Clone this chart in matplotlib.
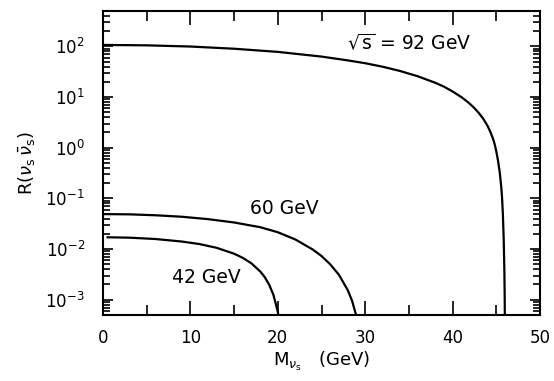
import matplotlib
matplotlib.use("Agg")
import matplotlib.pyplot as plt
from matplotlib.ticker import FixedLocator, LogLocator, NullFormatter, MultipleLocator

# Data
m92 = [0, 5, 10, 15, 20, 25, 28, 30, 32, 34, 36, 38, 39, 40, 41, 41.5, 42, 42.5, 43,
       43.5, 44, 44.3, 44.6, 44.8, 45, 45.2, 45.4, 45.55, 45.65, 45.75, 45.85,
       45.92, 45.96, 45.99]
r92 = [107, 105, 99.5, 90, 78, 63, 53, 46.6, 39.7, 32.7, 25.8, 19.2, 16.1, 12.9,
       10.0, 8.6, 7.3, 6.05, 4.85, 3.75, 2.7, 2.1, 1.55, 1.2, 0.85, 0.55, 0.32, 0.18,
       0.11, 0.05, 0.015, 0.004, 0.0012, 0.0002]

m60 = [0, 3, 6, 9, 12, 15, 18, 20, 22, 24, 25, 26, 27, 28, 28.5, 29, 29.3, 29.6, 29.9]
r60 = [0.049, 0.0485, 0.0465, 0.0435, 0.039, 0.0335, 0.027, 0.0215, 0.0155, 0.0098,
       0.0073, 0.005, 0.0031, 0.00155, 0.00095, 0.00047, 0.00024, 0.00008, 0.00001]

m42 = [0.4, 3, 6, 9, 11, 13, 15, 16, 17, 18, 18.5, 19, 19.5, 20, 20.3, 20.6, 20.9]
r42 = [0.0171, 0.0168, 0.0158, 0.0141, 0.0126, 0.0106, 0.0081, 0.0067, 0.0052,
       0.0036, 0.0028, 0.0020, 0.00125, 0.00058, 0.00028, 0.00009, 0.00001]

xticks = [0, 10, 20, 30, 40, 50]
xticklabels = ["0", "10", "20", "30", "40", "50"]
yticks = [1e-3, 1e-2, 1e-1, 1e0, 1e1, 1e2]
yticklabels = [r"$10^{-3}$", r"$10^{-2}$", r"$10^{-1}$", r"$10^{0}$", r"$10^{1}$", r"$10^{2}$"]

curve_labels = [r"$\sqrt{\mathrm{s}}$ = 92 GeV", "60 GeV", "42 GeV"]

plt.rcParams['font.family'] = ['DejaVu Sans']
plt.rcParams['mathtext.fontset'] = 'dejavusans'

fig = plt.figure(figsize=(5.54, 3.81), dpi=100)
ax = fig.add_axes([103/554, 1 - 315/381, (540-103)/554, (315-11)/381])

for m, r in [(m92, r92), (m60, r60), (m42, r42)]:
    ax.plot(m, r, color='black', lw=1.6, solid_capstyle='butt')

ax.set_yscale('log')
ax.set_xlim(0, 50)
ax.set_ylim(5e-4, 5e2)

ax.xaxis.set_major_locator(FixedLocator(xticks))
ax.set_xticklabels(xticklabels)
ax.xaxis.set_minor_locator(MultipleLocator(5))
ax.yaxis.set_major_locator(FixedLocator(yticks))
ax.set_yticklabels(yticklabels)
ax.yaxis.set_minor_locator(LogLocator(base=10, subs=range(2, 10), numticks=20))
ax.yaxis.set_minor_formatter(NullFormatter())

ax.tick_params(which='both', direction='in', top=True, right=True, width=1.2, color='black')
ax.tick_params(axis='x', which='major', length=10, pad=10, labelsize=12)
ax.tick_params(axis='x', which='minor', length=7)
ax.tick_params(axis='y', which='major', length=7, pad=13, labelsize=12)
ax.tick_params(axis='y', which='minor', length=5)

for s in ax.spines.values():
    s.set_linewidth(1.5)

ax.text(35.0, 117, curve_labels[0], fontsize=13.5, ha='center', va='center')
ax.text(20.8, 0.064, curve_labels[1], fontsize=13.5, ha='center', va='center')
ax.text(11.8, 0.0028, curve_labels[2], fontsize=13.5, ha='center', va='center')

ax.set_xlabel(r"M$_{\nu_\mathrm{s}}$   (GeV)", fontsize=13, labelpad=2)
ax.set_ylabel(r"R($\nu_\mathrm{s}\,\bar{\nu}_\mathrm{s}$)", fontsize=13, labelpad=6)

fig.savefig("out.png", dpi=100)
